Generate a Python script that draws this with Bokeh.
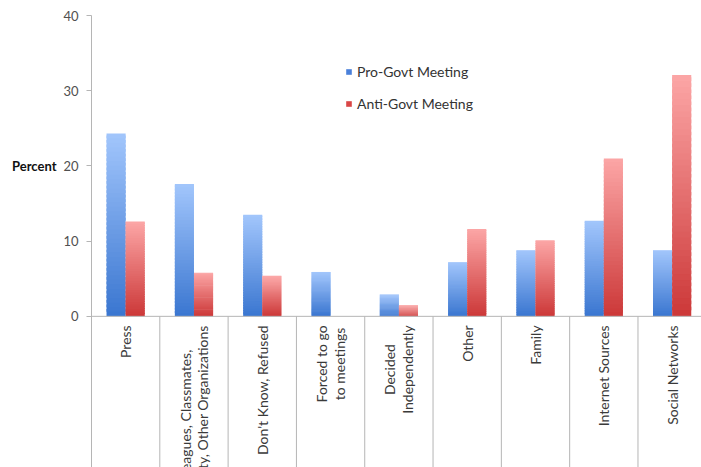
import numpy as np
from bokeh.plotting import figure
from bokeh.models import (ColumnDataSource, FixedTicker, Legend, LegendItem,
                          Span, Range1d, LinearAxis)
from bokeh.core.properties import value
from bokeh.embed import file_html
from bokeh.resources import INLINE

# ---------------- data ----------------
categories = [
    "Press",
    "Colleagues, Classmates,\nUniversity, Other Organizations",
    "Don't Know, Refused",
    "Forced to go\nto meetings",
    "Decided\nIndependently",
    "Other",
    "Family",
    "Internet Sources",
    "Social Networks",
]
pro_govt = [24.3, 17.6, 13.5, 5.9, 2.9, 7.2, 8.8, 12.7, 8.8]
anti_govt = [12.6, 5.8, 5.4, 0.0, 1.5, 11.6, 10.1, 21.0, 32.1]
series_names = ["Pro-Govt Meeting", "Anti-Govt Meeting"]
y_ticks = [0, 10, 20, 30, 40]
y_label = "Percent"
y_label_at = 20

FONT = "Lato"
AXIS_GRAY = "#b5b5b5"

n = len(categories)
centers = np.arange(n) + 0.5
bar_w = 0.28


def hex_to_rgb(h):
    h = h.lstrip("#")
    return [int(h[i:i + 2], 16) for i in (0, 2, 4)]


def gradient_source(xs, vals, top_hex, bot_hex, steps=40):
    top_c, bot_c = hex_to_rgb(top_hex), hex_to_rgb(bot_hex)
    X, B, T, C = [], [], [], []
    for x, v in zip(xs, vals):
        if v <= 0:
            continue
        dv = v / steps
        for k in range(steps):
            f = (k + 0.5) / steps
            rgb = [int(round(bc + (tc - bc) * f)) for bc, tc in zip(bot_c, top_c)]
            X.append(x)
            B.append(k * dv)
            T.append(min(v, (k + 1) * dv + dv * 0.6))
            C.append("#%02x%02x%02x" % tuple(rgb))
    return ColumnDataSource(dict(x=X, bottom=B, top=T, color=C))


p = figure(width=701, height=467, output_backend="svg", toolbar_location=None,
           x_range=Range1d(0, 8.93), y_range=Range1d(-20.1, 40),
           x_axis_location=None,
           min_border_left=91, min_border_right=0,
           min_border_top=15, min_border_bottom=0)
p.outline_line_color = None
p.xgrid.visible = False
p.ygrid.visible = False
p.background_fill_color = "white"
p.border_fill_color = "white"

# bars with vertical gradient
blue_src = gradient_source(centers - bar_w / 2, pro_govt, "#a2c6fc", "#3a76d0")
red_src = gradient_source(centers + bar_w / 2, anti_govt, "#fca6a6", "#cc3838")
p.vbar(x="x", bottom="bottom", top="top", width=bar_w, fill_color="color",
       line_color=None, source=blue_src)
p.vbar(x="x", bottom="bottom", top="top", width=bar_w, fill_color="color",
       line_color=None, source=red_src)

# legend proxies (zero height)
r_blue = p.vbar(x=[centers[0]], top=[0], bottom=[0], width=0,
                fill_color="#4a80da", line_color=None)
r_red = p.vbar(x=[centers[0]], top=[0], bottom=[0], width=0,
               fill_color="#d94646", line_color=None)

# baseline and category separators
p.add_layout(Span(location=0, dimension="width", line_color=AXIS_GRAY, line_width=1))
bounds = list(range(1, n + 1))
p.segment(x0=bounds, y0=[0] * len(bounds), x1=bounds, y1=[-21] * len(bounds),
          line_color=AXIS_GRAY, line_width=1)

# category labels (vertical)
p.text(x=centers, y=[-1.2] * n, text=categories, angle=np.pi / 2,
       anchor="center_right", text_align="center",
       text_font=value(FONT), text_font_size="14px", text_color="#3a3a3a",
       text_line_height=1.05)

# y axis
ax = p.yaxis[0]
ax.ticker = FixedTicker(ticks=y_ticks)
ax.axis_line_color = AXIS_GRAY
ax.major_tick_line_color = AXIS_GRAY
ax.major_tick_out = 5
ax.major_tick_in = 0
ax.minor_tick_line_color = None
ax.major_label_standoff = 8
ax.major_label_text_font = FONT
ax.major_label_text_font_size = "13px"
ax.major_label_text_color = "#505050"

# "Percent" label as a second left axis with a single labelled tick
lab_ax = LinearAxis(ticker=FixedTicker(ticks=[y_label_at]),
                    major_label_overrides={y_label_at: y_label},
                    axis_line_color=None, major_tick_line_color=None,
                    minor_tick_line_color=None, major_tick_out=0,
                    major_label_standoff=4,
                    major_label_text_font=FONT,
                    major_label_text_font_style="bold",
                    major_label_text_font_size="13px",
                    major_label_text_color="#111111")
p.add_layout(lab_ax, "left")

legend = Legend(items=[LegendItem(label=series_names[0], renderers=[r_blue]),
                       LegendItem(label=series_names[1], renderers=[r_red])],
                location=(254, 354), glyph_width=7, glyph_height=7,
                label_standoff=5, spacing=12, padding=0, margin=0,
                label_height=20, border_line_color=None,
                background_fill_alpha=0, label_text_font=FONT,
                label_text_font_size="14px", label_text_color="#333333")
p.add_layout(legend)

open("out.html", "w").write(file_html(p, INLINE))
